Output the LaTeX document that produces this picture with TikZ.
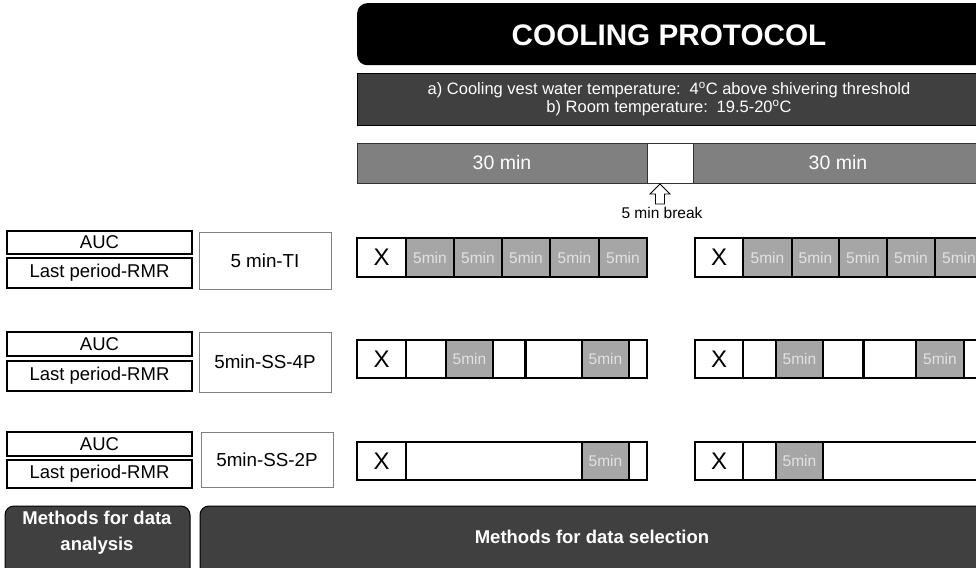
\documentclass[tikz,border=0pt]{standalone}
\usepackage{fontspec}
\setmainfont{Liberation Sans}
\definecolor{dgray}{HTML}{404040}
\definecolor{mgray}{HTML}{808080}
\definecolor{lgray}{HTML}{A6A6A6}
\definecolor{tgray}{HTML}{E2E2E2}
\tikzset{
  cellbox/.style={draw=black, line width=1.1pt, fill=white, inner sep=0pt},
  xcell/.style={cellbox, font=\fontsize{24}{26}\selectfont},
  fivecell/.style={cellbox, fill=lgray, text=tgray, font=\fontsize{15.5}{17}\selectfont},
  labbox/.style={draw=black, line width=1.1pt, fill=white, inner sep=0pt, font=\fontsize{18.5}{20}\selectfont},
  methbox/.style={draw=mgray, line width=0.9pt, fill=white, inner sep=0pt, font=\fontsize{18.8}{21}\selectfont},
  tbar/.style={draw=black!80, line width=1pt, fill=mgray, text=white, inner sep=0pt, font=\fontsize{19.5}{21}\selectfont},
  darkbox/.style={draw=black, line width=1pt, fill=dgray, text=white, inner sep=0pt, rounded corners=9pt}
}
% name, x1, x2, y1, y2, style, text
\newcommand\blk[7]{\node[#6, minimum width={(#3-#2)*1pt}, minimum height={(#5-#4)*1pt}] (#1) at ({(#2+#3)/2},{(#4+#5)/2}) {#7};}
\begin{document}
\begin{tikzpicture}[x=1pt,y=-1pt]
\useasboundingbox (0,0) rectangle (976,567);
\clip (0,0) rectangle (976,567);
% title
\node[fill=black, rounded corners=10pt, minimum width=640pt, minimum height=62pt, inner sep=0pt, anchor=north west] (title) at (357,3) {};
\node[text=white, font=\bfseries\fontsize{29.7}{32}\selectfont] (titletext) at (669,35) {COOLING PROTOCOL};
% conditions
\node[draw=black, line width=1pt, fill=dgray, minimum width=640pt, minimum height=52pt, inner sep=0pt, anchor=north west] (cond) at (357,73) {};
\node[text=white, align=center, font=\fontsize{16.5}{18}\selectfont] (condtext) at (669,99) {a) Cooling vest water temperature:\, 4\textsuperscript{o}C above shivering threshold\\ b) Room temperature:\, 19.5-20\textsuperscript{o}C};
% timeline
\blk{t1}{357}{647}{143}{183}{tbar}{30 min}
\blk{tb}{647}{693}{143}{183}{tbar, fill=white}{}
\blk{t2}{693}{1000}{143}{183}{tbar}{}
\node[text=white, font=\fontsize{19.5}{21}\selectfont] (t2text) at (838,163) {30 min};
% arrow
\coordinate (atip) at (660,184);
\draw[line width=0.9pt, fill=white] (atip) -- (670,194) -- (664.5,194) -- (664.5,204) -- (655.5,204) -- (655.5,194) -- (650,194) -- cycle;
\node[font=\fontsize{15.5}{17}\selectfont] (brk) at (662,213) {5 min break};
% row 1
\blk{a1}{7}{192}{231}{254}{labbox}{AUC}
\blk{l1}{7}{192}{258}{288}{labbox}{Last period-RMR}
\blk{m1}{199}{331}{232}{289}{methbox}{5 min-TI}
\blk{r1x}{357}{406}{238}{277}{xcell}{X}
\blk{r1a}{406}{454}{238}{277}{fivecell}{5min}
\blk{r1b}{454}{502}{238}{277}{fivecell}{5min}
\blk{r1c}{502}{550}{238}{277}{fivecell}{5min}
\blk{r1d}{550}{599}{238}{277}{fivecell}{5min}
\blk{r1e}{599}{647}{238}{277}{fivecell}{5min}
\blk{s1x}{695}{743}{238}{277}{xcell}{X}
\blk{s1a}{743}{792}{238}{277}{fivecell}{5min}
\blk{s1b}{792}{839}{238}{277}{fivecell}{5min}
\blk{s1c}{839}{887}{238}{277}{fivecell}{5min}
\blk{s1d}{887}{935}{238}{277}{fivecell}{5min}
\blk{s1e}{935}{983}{238}{277}{fivecell}{5min}
% row 2
\blk{a2}{7}{192}{332}{356}{labbox}{AUC}
\blk{l2}{7}{192}{361}{391}{labbox}{Last period-RMR}
\blk{m2}{199}{331}{332}{392}{methbox}{5min-SS-4P}
\blk{r2x}{357}{406}{340}{378}{xcell}{X}
\blk{r2a}{406}{446}{340}{378}{cellbox}{}
\blk{r2b}{446}{493}{340}{378}{fivecell}{5min}
\blk{r2c}{493}{526}{340}{378}{cellbox}{}
\blk{r2d}{526}{582}{340}{378}{cellbox}{}
\blk{r2e}{582}{629}{340}{378}{fivecell}{5min}
\blk{r2f}{629}{647}{340}{378}{cellbox}{}
\draw[line width=2pt] (r2d.north west) -- (r2d.south west);
\blk{s2x}{695}{743}{340}{378}{xcell}{X}
\blk{s2a}{743}{776}{340}{378}{cellbox}{}
\blk{s2b}{776}{823}{340}{378}{fivecell}{5min}
\blk{s2c}{823}{864}{340}{378}{cellbox}{}
\blk{s2d}{864}{916}{340}{378}{cellbox}{}
\blk{s2e}{916}{964}{340}{378}{fivecell}{5min}
\blk{s2f}{964}{990}{340}{378}{cellbox}{}
\draw[line width=2pt] (s2d.north west) -- (s2d.south west);
% row 3
\blk{a3}{7}{192}{432}{456}{labbox}{AUC}
\blk{l3}{7}{192}{460}{488}{labbox}{Last period-RMR}
\blk{m3}{201}{333}{432}{487}{methbox}{5min-SS-2P}
\blk{r3x}{357}{406}{442}{480}{xcell}{X}
\blk{r3a}{406}{582}{442}{480}{cellbox}{}
\blk{r3b}{582}{629}{442}{480}{fivecell}{5min}
\blk{r3c}{629}{647}{442}{480}{cellbox}{}
\blk{s3x}{695}{743}{442}{480}{xcell}{X}
\blk{s3a}{743}{776}{442}{480}{cellbox}{}
\blk{s3b}{776}{823}{442}{480}{fivecell}{5min}
\blk{s3c}{823}{990}{442}{480}{cellbox}{}
% bottom
\blk{ana}{5}{190}{506}{580}{darkbox}{}
\node[text=white, align=center, font=\bfseries\fontsize{18.5}{26}\selectfont] (anatext) at (97,533) {Methods for data\\analysis};
\blk{sel}{200}{1000}{506}{580}{darkbox}{}
\node[text=white, font=\bfseries\fontsize{18.5}{21}\selectfont] (seltext) at (592,537) {Methods for data selection};
\end{tikzpicture}
\end{document}
